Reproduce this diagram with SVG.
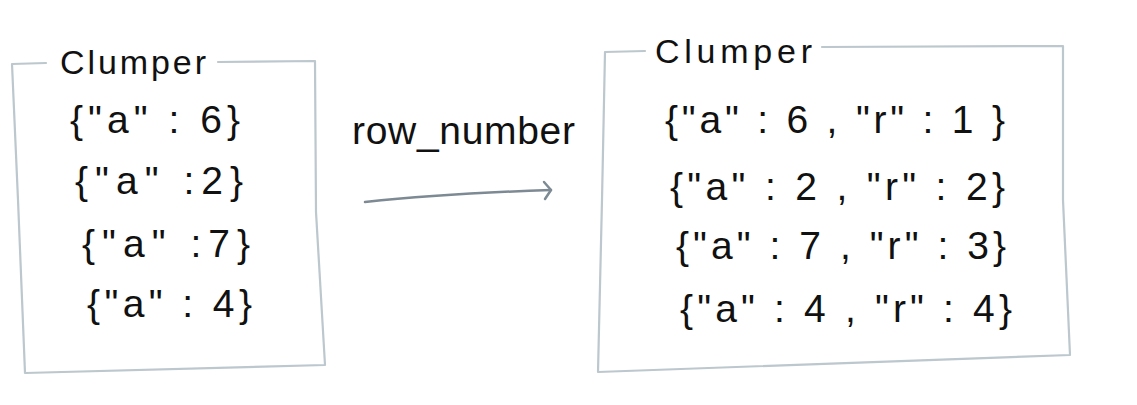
<svg xmlns="http://www.w3.org/2000/svg" width="1137" height="405" viewBox="0 0 1137 405">
<defs>
<style>
.box{fill:none;stroke:#bcc7ce;stroke-width:2.2;stroke-linecap:round;stroke-linejoin:round}
.t{font-family:"Liberation Sans","DejaVu Sans",sans-serif;fill:#111;font-size:39px}
.title{font-family:"Liberation Sans","DejaVu Sans",sans-serif;fill:#111;font-size:34px}
.conn{fill:none;stroke:#7d8a94;stroke-width:2.5;stroke-linecap:round;stroke-linejoin:round}
</style>
</defs>
<rect width="1137" height="405" fill="#ffffff"/>
<g id="left-clumper">
<path class="box" d="M46 63 L12 64 L18 200 L25 373 L325 365 L316 212 L315 61 L218 62"/>
<text class="title" x="60" y="74" textLength="146" lengthAdjust="spacing">Clumper</text>
<text class="t" x="70" y="133" textLength="170" lengthAdjust="spacing">{"a" : 6}</text>
<text class="t" x="75" y="194" textLength="168" lengthAdjust="spacing">{"a" :2}</text>
<text class="t" x="82" y="257" textLength="168" lengthAdjust="spacing">{"a" :7}</text>
<text class="t" x="87" y="317" textLength="165" lengthAdjust="spacing">{"a" : 4}</text>
</g>
<g id="right-clumper">
<path class="box" d="M645 51 L605 52 L602 200 L598 372 L1070 355 L1063 200 L1063 46 L822 47"/>
<text class="title" x="655" y="63" textLength="157" lengthAdjust="spacing">Clumper</text>
<text class="t" x="665" y="133" textLength="340" lengthAdjust="spacing">{"a" : 6 , "r" : 1 }</text>
<text class="t" x="670" y="200" textLength="335" lengthAdjust="spacing">{"a" : 2 , "r" : 2}</text>
<text class="t" x="676" y="259" textLength="330" lengthAdjust="spacing">{"a" : 7 , "r" : 3}</text>
<text class="t" x="680" y="322" textLength="332" lengthAdjust="spacing">{"a" : 4 , "r" : 4}</text>
</g>
<g id="connectors">
<path class="conn" d="M365 202 C430 195 490 192 551 190"/>
<path class="conn" d="M544 182 L551 190 L545 199"/>
</g>
<g id="label">
<text class="t" x="352" y="144" font-size="34" textLength="223" lengthAdjust="spacing">row_number</text>
</g>
</svg>
